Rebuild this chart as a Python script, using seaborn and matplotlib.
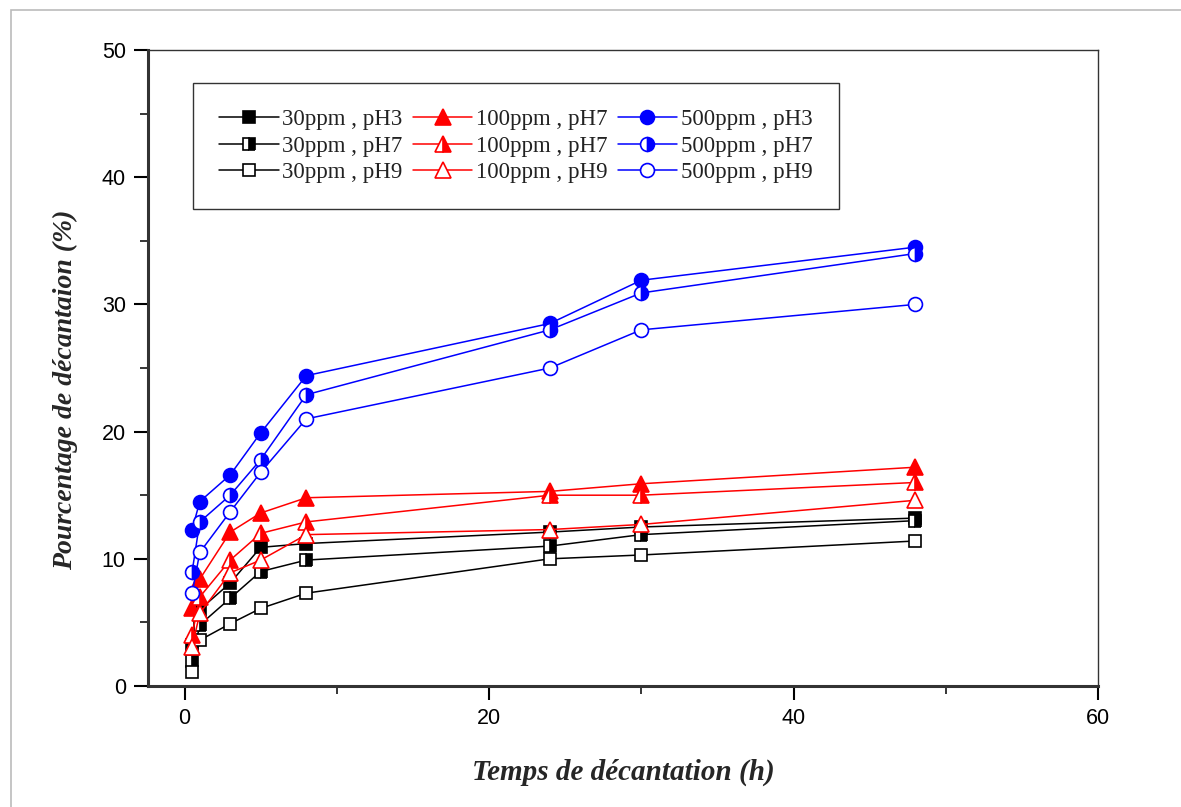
import matplotlib
matplotlib.use("Agg")
import matplotlib.pyplot as plt
import seaborn as sns
import pandas as pd
from matplotlib.ticker import MultipleLocator
from matplotlib.patches import Rectangle

# ---- data ----
time_h = [0.5, 1, 3, 5, 8, 24, 30, 48]

ppm30_pH3 = [3.2, 6.0, 8.1, 10.9, 11.2, 12.1, 12.5, 13.2]
ppm30_pH7 = [2.0, 4.8, 6.9, 9.0, 9.9, 11.0, 11.9, 13.0]
ppm30_pH9 = [1.1, 3.6, 4.9, 6.1, 7.3, 10.0, 10.3, 11.4]

ppm100_pH3 = [6.1, 8.4, 12.1, 13.6, 14.8, 15.3, 15.9, 17.2]
ppm100_pH7 = [4.0, 7.0, 9.9, 12.0, 12.9, 15.0, 15.0, 16.0]
ppm100_pH9 = [3.1, 5.7, 8.9, 9.9, 11.9, 12.3, 12.7, 14.6]

ppm500_pH3 = [12.3, 14.5, 16.6, 19.9, 24.4, 28.5, 31.9, 34.5]
ppm500_pH7 = [9.0, 12.9, 15.0, 17.8, 22.9, 28.0, 30.9, 34.0]
ppm500_pH9 = [7.3, 10.5, 13.7, 16.8, 21.0, 25.0, 28.0, 30.0]

labels = ["30ppm , pH3", "30ppm , pH7", "30ppm , pH9",
          "100ppm , pH7", "100ppm , pH7", "100ppm , pH9",
          "500ppm , pH3", "500ppm , pH7", "500ppm , pH9"]

xlabel = "Temps de décantation (h)"
ylabel = "Pourcentage de décantaion (%)"

series = [ppm30_pH3, ppm30_pH7, ppm30_pH9,
          ppm100_pH3, ppm100_pH7, ppm100_pH9,
          ppm500_pH3, ppm500_pH7, ppm500_pH9]

colors = ["black"] * 3 + ["#ff0000"] * 3 + ["#0000ff"] * 3
markers = ["s"] * 3 + ["^"] * 3 + ["o"] * 3
msizes = [9] * 3 + [11.5] * 3 + [10] * 3
fills = ["full", "right", "none"] * 3

sns.set_theme(style="white")
plt.rcParams["font.family"] = ["Liberation Sans", "DejaVu Sans"]

fig = plt.figure(figsize=(11.81, 8.07), dpi=100)
ax = fig.add_axes([148 / 1181, 1 - 686 / 807, 950 / 1181, 636 / 807])

for vals, lab, c, m, ms, fs in zip(series, labels, colors, markers, msizes, fills):
    df = pd.DataFrame({"t": time_h, "v": vals})
    kw = dict(color=c, marker=m, markersize=ms, markeredgecolor=c,
              markeredgewidth=1.2, linewidth=1.1, label=lab)
    if fs == "full":
        kw.update(markerfacecolor=c)
    elif fs == "right":
        kw.update(fillstyle="right", markerfacecolor=c, markerfacecoloralt="white")
    else:
        kw.update(markerfacecolor="white")
    sns.lineplot(data=df, x="t", y="v", ax=ax, errorbar=None, estimator=None,
                 sort=False, **kw)

ax.set_xlim(-2.4, 60)
ax.set_ylim(0, 50)
ax.xaxis.set_major_locator(MultipleLocator(20))
ax.xaxis.set_minor_locator(MultipleLocator(10))
ax.yaxis.set_major_locator(MultipleLocator(10))
ax.yaxis.set_minor_locator(MultipleLocator(5))

ax.tick_params(axis="both", which="major", direction="out", length=10, width=1.5,
               labelsize=15.5, colors="black", bottom=True, left=True, pad=6)
ax.tick_params(axis="both", which="minor", direction="out", length=6, width=1.3,
               bottom=True, left=True)

for s in ["left", "bottom"]:
    ax.spines[s].set_linewidth(2.2)
    ax.spines[s].set_color("#333333")
for s in ["top", "right"]:
    ax.spines[s].set_linewidth(1.0)
    ax.spines[s].set_color("#333333")
    ax.spines[s].set_visible(True)

ax.set_xlabel(xlabel, family=["Liberation Serif", "DejaVu Serif"], fontsize=21,
              fontweight="bold", fontstyle="italic")
ax.set_ylabel(ylabel, family=["Liberation Serif", "DejaVu Serif"], fontsize=20,
              fontweight="bold", fontstyle="italic")
ax.xaxis.set_label_coords(0.5, -0.115)
ax.yaxis.set_label_coords(-0.074, 0.465)

handles, labs = ax.get_legend_handles_labels()
leg = ax.legend(handles, labs, ncol=3, loc="upper left",
                bbox_to_anchor=(0.047, 0.948), frameon=True, fancybox=False,
                edgecolor="#333333", framealpha=1,
                prop={"family": ["Liberation Serif", "DejaVu Serif"], "size": 16.5},
                handlelength=2.6, handletextpad=0.15, columnspacing=0.45,
                labelspacing=0.22, borderpad=1.15, borderaxespad=0)
leg.get_frame().set_linewidth(1.0)
for t in leg.get_texts():
    t.set_color("#222222")

fig.patches.append(Rectangle((0.009, -0.01), 1.0, 0.998,
                             transform=fig.transFigure, fill=False,
                             edgecolor="#bbbbbb", linewidth=1.2))

fig.savefig("out.png", dpi=100)
